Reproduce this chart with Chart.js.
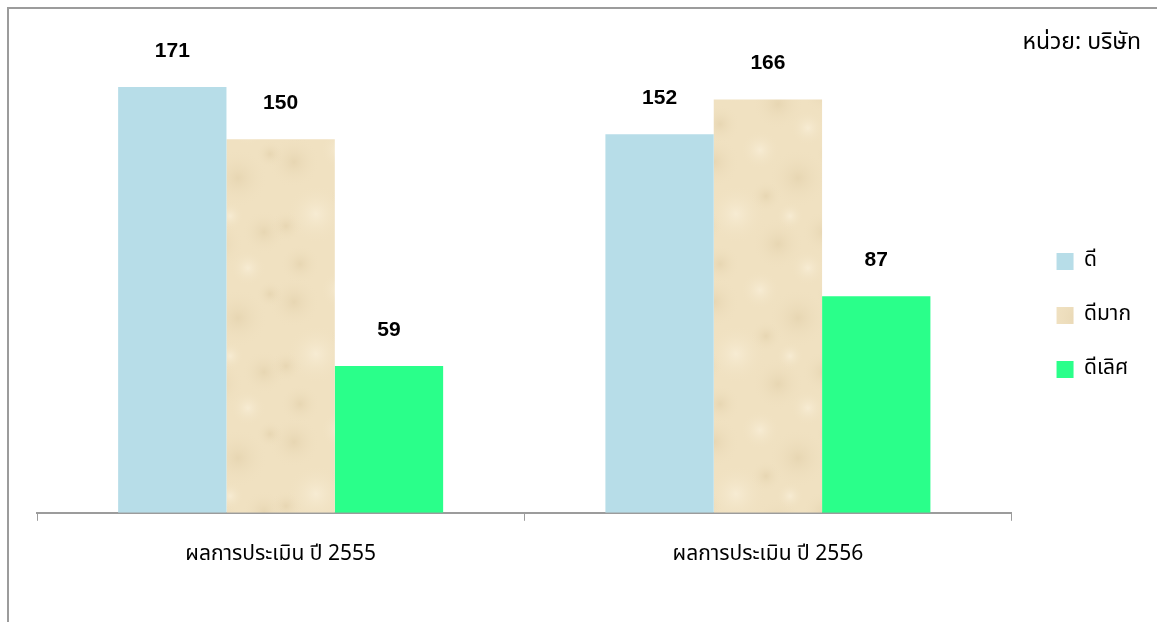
<!DOCTYPE html>
<html>
<head>
<meta charset="utf-8">
<script src="https://cdn.jsdelivr.net/npm/chart.js@4.4.0/dist/chart.umd.min.js"></script>
<style>
  html, body { margin: 0; padding: 0; background: #ffffff; }
  #wrap { position: relative; width: 1157px; height: 622px; }
</style>
</head>
<body>
<div id="wrap"><canvas id="c" width="1157" height="622"></canvas></div>
<script>
// Assessment results by year (number of companies)
const categories = ['ผลการประเมิน ปี 2555', 'ผลการประเมิน ปี 2556'];
const seriesNames = ['ดี', 'ดีมาก', 'ดีเลิศ'];
const goodValues = [171, 152];
const veryGoodValues = [150, 166];
const excellentValues = [59, 87];
const unitLabel = 'หน่วย: บริษัท';

const THAI_FONT = '"Noto Sans Thai", "Noto Sans", "DejaVu Sans", sans-serif';

// Sand-coloured paper texture for the middle series
function makeSandPattern() {
  const size = 140;
  const off = document.createElement('canvas');
  off.width = size; off.height = size;
  const g = off.getContext('2d');
  g.fillStyle = '#f0e1c1';
  g.fillRect(0, 0, size, size);
  // soft darker and lighter mottles at fixed spots
  const spots = [
    [14, 22, 26, -1], [60, 10, 20, 1], [98, 38, 30, -1], [124, 92, 22, -1],
    [36, 74, 30, 1], [78, 104, 26, -1], [20, 124, 20, -1], [108, 128, 18, 1],
    [66, 56, 16, -1], [130, 14, 14, -1], [6, 86, 16, -1], [90, 76, 14, 1]
  ];
  spots.forEach(([x, y, r, s]) => {
    for (let dx = -size; dx <= size; dx += size) {
      for (let dy = -size; dy <= size; dy += size) {
        const grad = g.createRadialGradient(x + dx, y + dy, 0, x + dx, y + dy, r);
        grad.addColorStop(0, s < 0 ? 'rgba(200,176,128,0.22)' : 'rgba(255,248,232,0.45)');
        grad.addColorStop(1, 'rgba(240,225,193,0)');
        g.fillStyle = grad;
        g.fillRect(x + dx - r, y + dy - r, 2 * r, 2 * r);
      }
    }
  });
  return g.createPattern(off, 'repeat');
}
const sand = makeSandPattern();

// Outer frame lines and unit caption
const framePlugin = {
  id: 'frame',
  beforeDraw(chart) {
    const ctx = chart.ctx;
    ctx.save();
    ctx.strokeStyle = '#9c9c9c';
    ctx.lineWidth = 2;
    ctx.beginPath();
    ctx.moveTo(7, 8); ctx.lineTo(chart.width, 8);
    ctx.moveTo(8, 8); ctx.lineTo(8, chart.height);
    ctx.stroke();
    ctx.fillStyle = '#000';
    ctx.font = '23px ' + THAI_FONT;
    ctx.textAlign = 'right';
    ctx.textBaseline = 'middle';
    ctx.fillText(unitLabel, 1141, 44);
    ctx.restore();
  }
};

// Value labels above each bar
const valueLabels = {
  id: 'valueLabels',
  afterDatasetsDraw(chart) {
    const ctx = chart.ctx;
    ctx.save();
    ctx.fillStyle = '#000';
    ctx.font = 'bold 21px "Liberation Sans", Arial, sans-serif';
    ctx.textAlign = 'center';
    ctx.textBaseline = 'middle';
    chart.data.datasets.forEach((ds, i) => {
      chart.getDatasetMeta(i).data.forEach((bar, j) => {
        ctx.fillText(String(ds.data[j]), bar.x, bar.y - 36);
      });
    });
    ctx.restore();
  }
};

new Chart(document.getElementById('c'), {
  type: 'bar',
  data: {
    labels: categories,
    datasets: [
      { label: seriesNames[0], data: goodValues, backgroundColor: '#b7dde8' },
      { label: seriesNames[1], data: veryGoodValues, backgroundColor: sand },
      { label: seriesNames[2], data: excellentValues, backgroundColor: '#2aff8a' }
    ]
  },
  options: {
    responsive: false,
    animation: false,
    devicePixelRatio: 1,
    layout: { padding: { left: 37, right: 16, top: 41, bottom: 32 } },
    datasets: { bar: { barPercentage: 1, categoryPercentage: 0.667, borderWidth: 0 } },
    scales: {
      x: {
        grid: { offset: true, drawOnChartArea: false, drawTicks: true, tickLength: 8, color: '#9c9c9c', lineWidth: 1 },
        border: { color: '#9c9c9c', width: 2 },
        ticks: { color: '#000', font: { size: 21, family: THAI_FONT }, padding: 22 }
      },
      y: { display: false, min: 0, max: 189.5 },
      // empty gutter between the plot and the legend
      gutter: {
        type: 'linear',
        position: 'right',
        display: true,
        grid: { display: false },
        border: { display: false },
        ticks: { display: false },
        afterFit(scale) { scale.width = 12; }
      }
    },
    plugins: {
      legend: {
        position: 'right',
        align: 'center',
        labels: {
          boxWidth: 17, boxHeight: 17, padding: 33,
          color: '#000',
          font: { size: 21, lineHeight: 0.8, family: THAI_FONT }
        }
      },
      tooltip: { enabled: false }
    }
  },
  plugins: [framePlugin, valueLabels]
});
</script>
</body>
</html>
